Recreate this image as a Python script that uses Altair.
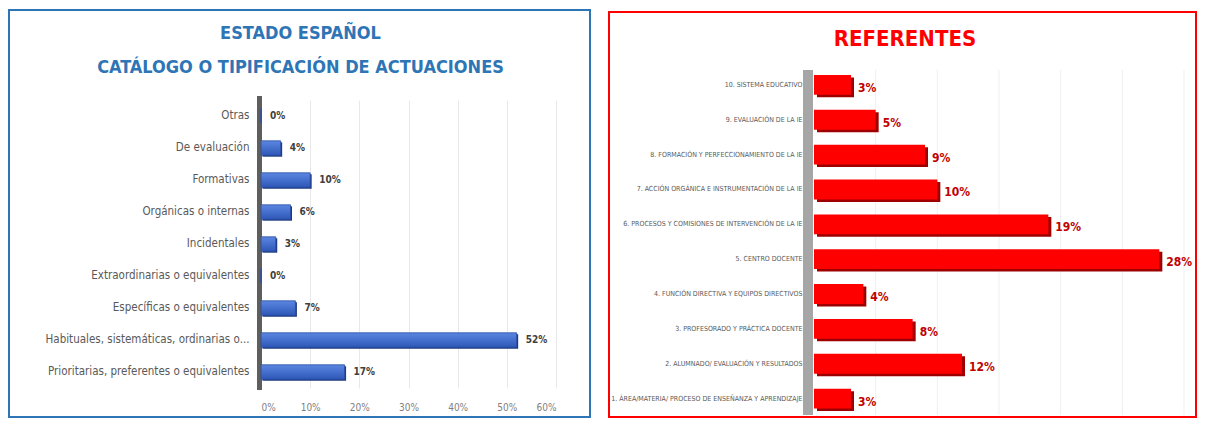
import altair as alt
import pandas as pd

# ---------------- data ----------------
left_cats = [
    "Otras",
    "De evaluación",
    "Formativas",
    "Orgánicas o internas",
    "Incidentales",
    "Extraordinarias o equivalentes",
    "Específicas o equivalentes",
    "Habituales, sistemáticas, ordinarias o...",
    "Prioritarias, preferentes o equivalentes",
]
left_vals = [0.00, 0.04, 0.10, 0.06, 0.03, 0.00, 0.07, 0.52, 0.17]
left_ticks = [0.0, 0.1, 0.2, 0.3, 0.4, 0.5, 0.6]

right_cats = [
    "10. SISTEMA EDUCATIVO",
    "9. EVALUACIÓN DE LA IE",
    "8. FORMACIÓN Y PERFECCIONAMIENTO DE LA IE",
    "7. ACCIÓN ORGÁNICA E INSTRUMENTACIÓN DE LA IE",
    "6. PROCESOS Y COMISIONES DE INTERVENCIÓN DE LA IE",
    "5. CENTRO DOCENTE",
    "4. FUNCIÓN DIRECTIVA Y EQUIPOS DIRECTIVOS",
    "3. PROFESORADO Y PRÁCTICA DOCENTE",
    "2. ALUMNADO/ EVALUACIÓN Y RESULTADOS",
    "1. ÁREA/MATERIA/ PROCESO DE ENSEÑANZA Y APRENDIZAJE",
]
right_vals = [0.03, 0.05, 0.09, 0.10, 0.19, 0.28, 0.04, 0.08, 0.12, 0.03]
right_ticks = [0.05, 0.10, 0.15, 0.20, 0.25, 0.30]

NARROW = "DejaVu Sans Condensed, Liberation Sans Narrow, Liberation Sans, sans-serif"
one = pd.DataFrame({"k": [0]})

# ---------------- left panel ----------------
LW, LH = 295, 288
ldf = pd.DataFrame({"cat": left_cats, "val": left_vals})

ly = alt.Y(
    "cat:N", sort=left_cats, title=None,
    scale=alt.Scale(paddingInner=0.55, paddingOuter=0.275),
    axis=alt.Axis(labelFont=NARROW, labelFontSize=11.5, labelColor="#595959",
                  labelPadding=12, ticks=False, domain=False, labelLimit=300),
)
lx = alt.X(
    "val:Q", title=None, scale=alt.Scale(domain=[0, 0.6]),
    axis=alt.Axis(values=left_ticks, format=".0%", grid=True, gridColor="#E8E8E8",
                  domain=False, ticks=False, labelPadding=14, labelColor="#7F7F7F",
                  labelFont=NARROW, labelFontSize=10),
)

lbase = alt.Chart(ldf)
l_border = alt.Chart(one).mark_rect(fillOpacity=0, stroke="#2E75B6", strokeWidth=2).encode(
    x=alt.value(-252), x2=alt.value(329), y=alt.value(-90), y2=alt.value(317)
)
l_wall = alt.Chart(one).mark_rect(color="#5E5E5E").encode(
    x=alt.value(-4), x2=alt.value(1), y=alt.value(-4), y2=alt.value(LH + 2)
)
l_shadow = lbase.mark_bar(color="#1F3A80", xOffset=1.5, yOffset=1.5).encode(x=lx, y=ly)
l_bar = lbase.mark_bar(
    color=alt.Gradient(gradient="linear", x1=0, y1=0, x2=0, y2=1,
                       stops=[alt.GradientStop(color="#5B86E0", offset=0),
                              alt.GradientStop(color="#2F58B8", offset=1)]),
    stroke="#2A4FA6", strokeWidth=0.8,
).encode(x=lx, y=ly)
l_text = lbase.mark_text(align="left", dx=9, fontWeight="bold", fontSize=10,
                         font=NARROW, color="#404040").encode(
    x=lx, y=ly, text=alt.Text("val:Q", format=".0%")
)

left = alt.layer(l_border, l_wall, l_shadow, l_bar, l_text).properties(
    width=LW, height=LH,
    title=alt.TitleParams(
        text=["ESTADO ESPAÑOL", "CATÁLOGO O TIPIFICACIÓN DE ACTUACIONES"],
        font=NARROW, fontSize=18, fontWeight="bold", color="#2E75B6",
        anchor="middle", frame="group", dx=-108, offset=-68, lineHeight=34,
    ),
)

# ---------------- right panel ----------------
# plot area shares its top with the left panel; the band range starts above it
RW, RH = 370, 316
rdf = pd.DataFrame({"cat": right_cats, "val": right_vals})

ry = alt.Y(
    "cat:N", sort=right_cats, title=None,
    scale=alt.Scale(paddingInner=0.43, paddingOuter=0.215, range=[-32.5, 316]),
    axis=alt.Axis(labelFont=NARROW, labelFontSize=7, labelColor="#595959",
                  labelPadding=12, ticks=False, domain=False, labelLimit=300),
)
rx = alt.X(
    "val:Q", title=None, scale=alt.Scale(domain=[0, 0.30]),
    axis=alt.Axis(grid=False, domain=False, ticks=False, labels=False),
)

rbase = alt.Chart(rdf)
r_border = alt.Chart(one).mark_rect(fillOpacity=0, stroke="#FF0000", strokeWidth=2).encode(
    x=alt.value(-205), x2=alt.value(382), y=alt.value(-88), y2=alt.value(317)
)
r_grid = alt.Chart(pd.DataFrame({"val": right_ticks})).mark_rule(
    color="#EFEFEF", strokeWidth=1
).encode(x=rx, y=alt.value(-30), y2=alt.value(315))
r_wall = alt.Chart(one).mark_rect(color="#A6A6A6").encode(
    x=alt.value(-11), x2=alt.value(-1), y=alt.value(-30), y2=alt.value(315)
)
r_shadow = rbase.mark_bar(color="#9E0000", xOffset=3, yOffset=2.5).encode(x=rx, y=ry)
r_bar = rbase.mark_bar(color="#FF0000").encode(x=rx, y=ry)
r_text = rbase.mark_text(align="left", dx=7, dy=3, fontWeight="bold", fontSize=12,
                         font=NARROW, color="#C00000").encode(
    x=rx, y=ry, text=alt.Text("val:Q", format=".0%")
)

right = alt.layer(r_border, r_grid, r_wall, r_shadow, r_bar, r_text).properties(
    width=RW, height=RH,
    title=alt.TitleParams(
        text="REFERENTES", font=NARROW, fontSize=22, fontWeight="bold", color="#FF0000",
        anchor="middle", frame="group", dx=-94, offset=-40,
    ),
)

chart = alt.hconcat(left, right, spacing=17).properties(
    padding={"left": 0, "top": 1, "right": 0, "bottom": 0},
    background="white",
).configure_view(stroke=None)

chart.save("out.html", embed_options={"renderer": "svg", "actions": False})
